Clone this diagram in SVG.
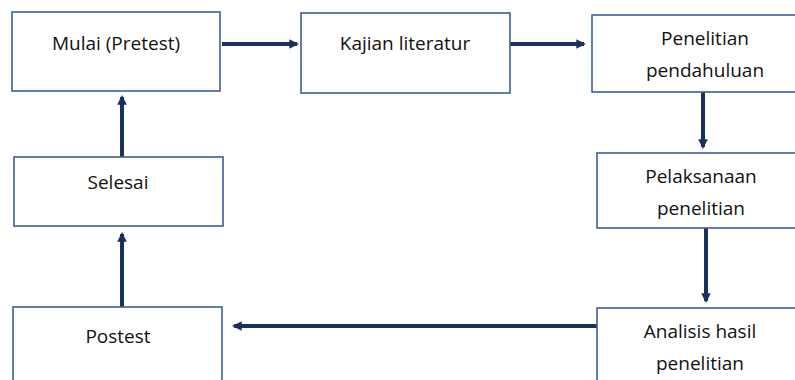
<svg xmlns="http://www.w3.org/2000/svg" width="795" height="380" viewBox="0 0 795 380">
<style>
.box{fill:#fff;stroke:#3c5f9e;stroke-width:1.6}
.lbl{font-family:"Open Sans","Liberation Sans",sans-serif;font-size:19px;fill:#111;text-anchor:middle}
.con{stroke:#1b2f5c;stroke-width:4;fill:none;marker-end:url(#ah)}
</style>
<defs>
<marker id="ah" viewBox="0 0 10 10" refX="8" refY="5" markerWidth="2.4" markerHeight="2.6" orient="auto" markerUnits="strokeWidth">
<path d="M0,0 L10,5 L0,10 z" fill="#1b2f5c"/>
</marker>
</defs>
<rect width="795" height="380" fill="#fff"/>
<g id="connectors">
<line class="con" x1="222" y1="44" x2="297" y2="44"/>
<line class="con" x1="510" y1="44" x2="584" y2="44"/>
<line class="con" x1="703" y1="92" x2="703" y2="147"/>
<line class="con" x1="706" y1="228" x2="706" y2="301"/>
<line class="con" x1="597" y1="326" x2="234" y2="326"/>
<line class="con" x1="122" y1="307" x2="122" y2="234"/>
<line class="con" x1="122" y1="157" x2="122" y2="97"/>
</g>
<g id="mulai">
<rect class="box" x="12" y="12" width="208" height="79"/>
<text class="lbl" x="116" y="50">Mulai (Pretest)</text>
</g>
<g id="kajian">
<rect class="box" x="301" y="13" width="209" height="80"/>
<text class="lbl" x="405" y="50">Kajian literatur</text>
</g>
<g id="penelitian-pendahuluan">
<rect class="box" x="592" y="15" width="210" height="77"/>
<text class="lbl" x="705" y="45">Penelitian</text>
<text class="lbl" x="705" y="77">pendahuluan</text>
</g>
<g id="pelaksanaan">
<rect class="box" x="597" y="153" width="205" height="75"/>
<text class="lbl" x="701" y="183">Pelaksanaan</text>
<text class="lbl" x="701" y="215">penelitian</text>
</g>
<g id="analisis">
<rect class="box" x="597" y="308" width="205" height="80"/>
<text class="lbl" x="700" y="338">Analisis hasil</text>
<text class="lbl" x="700" y="370">penelitian</text>
</g>
<g id="selesai">
<rect class="box" x="14" y="157" width="209" height="69"/>
<text class="lbl" x="118" y="189">Selesai</text>
</g>
<g id="postest">
<rect class="box" x="13" y="307" width="209" height="80"/>
<text class="lbl" x="118" y="343">Postest</text>
</g>
</svg>
